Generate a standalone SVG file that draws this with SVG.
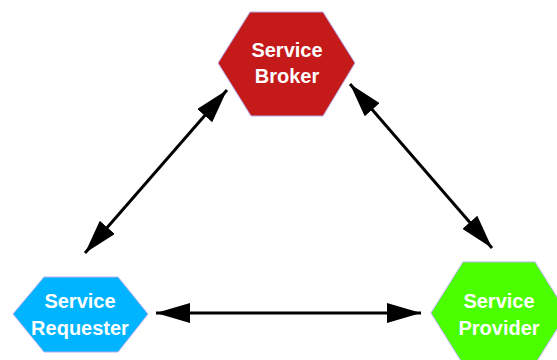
<svg xmlns="http://www.w3.org/2000/svg" width="557" height="360" viewBox="0 0 557 360">
<style>
.hex{stroke:#b8b0f0;stroke-width:1}
.lbl{font-family:"Liberation Sans",Arial,sans-serif;font-weight:bold;font-size:20px;fill:#ffffff;text-anchor:middle}
.conn{stroke:#000;stroke-width:3;fill:none;marker-start:url(#ah);marker-end:url(#ah)}
</style>
<defs>
<marker id="ah" viewBox="0 0 34 20" refX="34" refY="10" markerWidth="34" markerHeight="20" markerUnits="userSpaceOnUse" orient="auto-start-reverse">
<path d="M0,0 L34,10 L0,20 Z" fill="#000"/>
</marker>
</defs>
<rect width="557" height="360" fill="#fff"/>
<g id="connectors">
<line class="conn" x1="85" y1="253" x2="227" y2="90"/>
<line class="conn" x1="350" y1="84" x2="492" y2="248"/>
<line class="conn" x1="156" y1="313" x2="421" y2="313"/>
</g>
<g id="broker">
<polygon class="hex" fill="#c41a1a" points="250,12 323,12 355,63 323,116 251,116 218,63"/>
<text class="lbl" x="287" y="57">Service</text>
<text class="lbl" x="287" y="83">Broker</text>
</g>
<g id="requester">
<polygon class="hex" fill="#00b4ff" points="44,277 118,277 148,314 118,352 44,352 13,314"/>
<text class="lbl" x="80" y="308">Service</text>
<text class="lbl" x="80" y="335">Requester</text>
</g>
<g id="provider">
<polygon class="hex" fill="#4cff00" points="463,262 535,262 567,313 535,364 463,364 431,313"/>
<text class="lbl" x="499" y="308">Service</text>
<text class="lbl" x="499" y="335">Provider</text>
</g>
</svg>
